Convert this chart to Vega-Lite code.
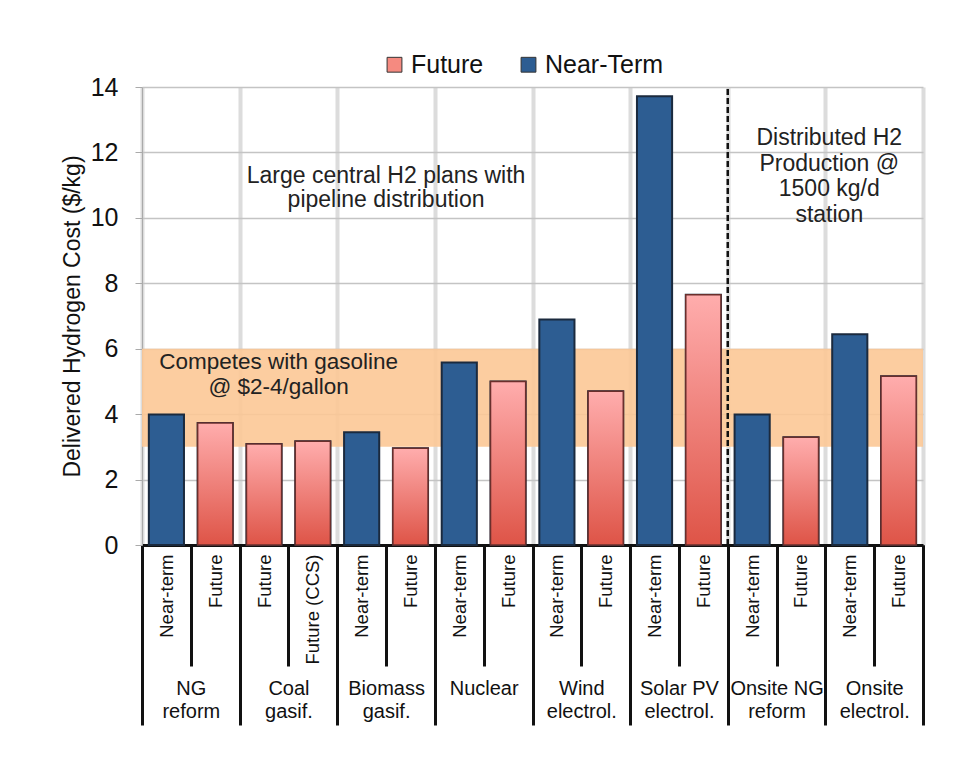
{
  "$schema": "https://vega.github.io/schema/vega-lite/v6.json",
  "width": 781,
  "height": 458,
  "padding": {"left": 61, "top": 52, "right": 37, "bottom": 5},
  "background": "white",
  "config": {"font": "Liberation Sans", "view": {"stroke": null}},
  "data": {"values": [
    {"bar": "01#Near-term", "group": "NG|reform", "series": "Near-Term", "cost": 3.99},
    {"bar": "02#Future", "group": "NG|reform", "series": "Future", "cost": 3.73},
    {"bar": "03#Future", "group": "Coal|gasif.", "series": "Future", "cost": 3.09},
    {"bar": "04#Future (CCS)", "group": "Coal|gasif.", "series": "Future", "cost": 3.17},
    {"bar": "05#Near-term", "group": "Biomass|gasif.", "series": "Near-Term", "cost": 3.45},
    {"bar": "06#Future", "group": "Biomass|gasif.", "series": "Future", "cost": 2.96},
    {"bar": "07#Near-term", "group": "Nuclear", "series": "Near-Term", "cost": 5.58},
    {"bar": "08#Future", "group": "Nuclear", "series": "Future", "cost": 5.0},
    {"bar": "09#Near-term", "group": "Wind|electrol.", "series": "Near-Term", "cost": 6.89},
    {"bar": "10#Future", "group": "Wind|electrol.", "series": "Future", "cost": 4.7},
    {"bar": "11#Near-term", "group": "Solar PV|electrol.", "series": "Near-Term", "cost": 13.72},
    {"bar": "12#Future", "group": "Solar PV|electrol.", "series": "Future", "cost": 7.65},
    {"bar": "13#Near-term", "group": "Onsite NG|reform", "series": "Near-Term", "cost": 3.99},
    {"bar": "14#Future", "group": "Onsite NG|reform", "series": "Future", "cost": 3.29},
    {"bar": "15#Near-term", "group": "Onsite|electrol.", "series": "Near-Term", "cost": 6.44},
    {"bar": "16#Future", "group": "Onsite|electrol.", "series": "Future", "cost": 5.16}
  ]},
  "layer": [
    {
      "layer": [
        {
          "data": {"values": [{"lo": 3, "hi": 6}]},
          "mark": {"type": "rect", "color": "#FCC896", "opacity": 0.9},
          "encoding": {
            "y": {"field": "lo", "type": "quantitative", "scale": {"domain": [0, 14], "nice": false}},
            "y2": {"field": "hi"}
          }
        },
        {
          "mark": {"type": "bar", "width": {"band": 0.72}, "stroke": "#1b2a3e", "strokeWidth": 2},
          "encoding": {
            "x": {
              "field": "bar", "type": "nominal", "sort": null,
              "scale": {"padding": 0},
              "axis": {
                "orient": "bottom", "title": null,
                "labelExpr": "split(datum.label, '#')[1]",
                "labelAngle": -90, "labelFontSize": 18.5, "labelColor": "#111",
                "labelPadding": -112,
                "tickBand": "extent", "tickSize": 121, "tickColor": "#111", "tickWidth": 3,
                "domainColor": "#111", "domainWidth": 3, "grid": false
              }
            },
            "y": {
              "field": "cost", "type": "quantitative",
              "scale": {"domain": [0, 14], "nice": false},
              "axis": {
                "title": "Delivered Hydrogen Cost ($/kg)", "titleFontSize": 23, "titleFontWeight": "normal", "titleColor": "#111", "titlePadding": 6,
                "values": [0, 2, 4, 6, 8, 10, 12, 14],
                "labelFontSize": 25, "labelColor": "#111", "labelPadding": 17,
                "tickSize": 7, "tickColor": "#aaa", "domainColor": "#aaa",
                "gridColor": "#c4c4c4", "gridWidth": 1.5
              }
            },
            "color": {
              "field": "series", "type": "nominal",
              "scale": {"domain": ["Future", "Near-Term"], "range": ["#F58A80", "#2D5D92"]},
              "legend": {
                "orient": "none", "legendX": 240, "legendY": -35, "direction": "horizontal",
                "title": null, "labelFontSize": 25, "labelColor": "#111",
                "symbolType": "square", "symbolSize": 220, "symbolStrokeColor": "#333", "symbolStrokeWidth": 1,
                "symbolOpacity": 1, "columnPadding": 32, "labelOffset": 4
              }
            }
          }
        },
        {
          "transform": [{"filter": "datum.series === 'Future'"}],
          "mark": {
            "type": "bar", "width": {"band": 0.72}, "stroke": "#6a2f2c", "strokeWidth": 1.5,
            "fill": {"gradient": "linear", "x1": 0, "y1": 0, "x2": 0, "y2": 1,
              "stops": [{"offset": 0, "color": "#FFADAD"}, {"offset": 1, "color": "#DE5447"}]}
          },
          "encoding": {
            "x": {"field": "bar", "type": "nominal", "sort": null},
            "y": {"field": "cost", "type": "quantitative"}
          }
        }
      ]
    },
    {
      "layer": [
        {
          "data": {"values": [{"group": "Onsite NG|reform"}]},
          "mark": {"type": "rule", "color": "#111", "strokeWidth": 2.5, "strokeDash": [6, 3]},
          "encoding": {
            "x": {
              "field": "group", "type": "nominal", "bandPosition": 0,
              "scale": {"domain": ["NG|reform", "Coal|gasif.", "Biomass|gasif.", "Nuclear", "Wind|electrol.", "Solar PV|electrol.", "Onsite NG|reform", "Onsite|electrol."], "padding": 0},
              "axis": {
                "orient": "bottom", "title": null,
                "labelExpr": "split(datum.label, '|')",
                "labelAngle": 0, "labelFontSize": 20, "labelColor": "#111", "labelLineHeight": 23,
                "labelPadding": -47,
                "tickBand": "extent", "tickSize": 180, "tickColor": "#111", "tickWidth": 3,
                "domain": false,
                "grid": true, "gridColor": "#dcdcdc", "gridWidth": 4
              }
            },
            "y": {"datum": 0, "type": "quantitative"},
            "y2": {"datum": 14}
          }
        },
        {
          "data": {"values": [{}]},
          "mark": {"type": "text", "fontSize": 23, "color": "#222", "lineHeight": 24, "align": "center", "baseline": "middle",
            "text": ["Large central H2 plans with", "pipeline distribution"]},
          "encoding": {
            "x": {"datum": "Biomass|gasif.", "type": "nominal", "bandPosition": 0.5},
            "y": {"datum": 11.27, "type": "quantitative"}
          }
        },
        {
          "data": {"values": [{}]},
          "mark": {"type": "text", "fontSize": 22.5, "color": "#222", "lineHeight": 25, "align": "center", "baseline": "middle",
            "text": ["Competes with gasoline", "@ $2-4/gallon"]},
          "encoding": {
            "x": {"datum": "Coal|gasif.", "type": "nominal", "bandPosition": 0.4},
            "y": {"datum": 5.58, "type": "quantitative"}
          }
        },
        {
          "data": {"values": [{}]},
          "mark": {"type": "text", "fontSize": 23, "color": "#222", "lineHeight": 25.5, "align": "center", "baseline": "middle",
            "text": ["Distributed H2", "Production @", "1500 kg/d", "station"]},
          "encoding": {
            "x": {"datum": "Onsite|electrol.", "type": "nominal", "bandPosition": 0.04},
            "y": {"datum": 12.43, "type": "quantitative"}
          }
        }
      ]
    }
  ],
  "resolve": {"scale": {"x": "independent"}, "axis": {"x": "independent"}}
}
